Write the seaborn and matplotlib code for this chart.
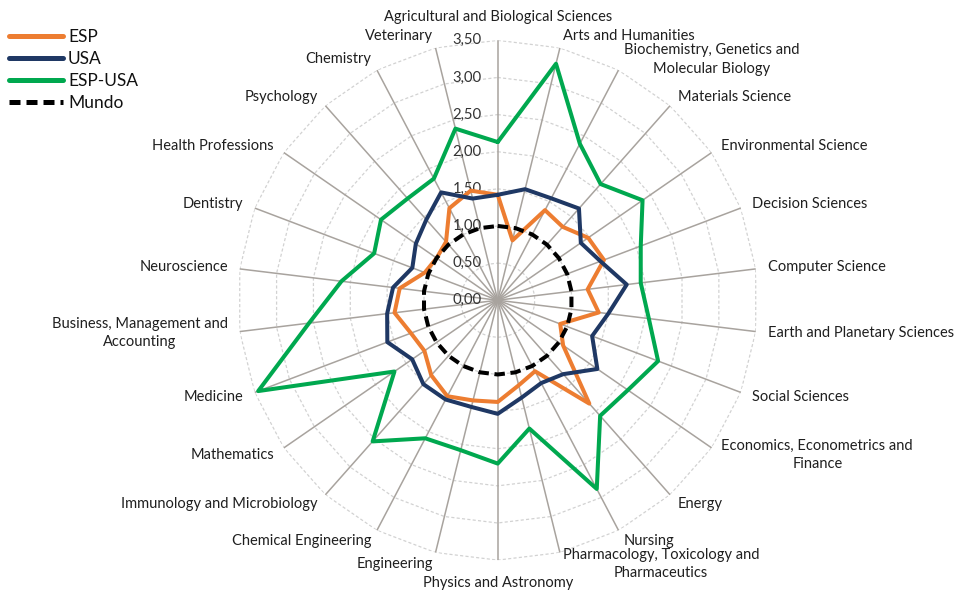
import numpy as np
import pandas as pd
import matplotlib
matplotlib.use("Agg")
import matplotlib.pyplot as plt
import seaborn as sns
from matplotlib.lines import Line2D

# ---------------- data ----------------
categories = [
    "Agricultural and Biological Sciences", "Arts and Humanities",
    "Biochemistry, Genetics and\nMolecular Biology", "Materials Science",
    "Environmental Science", "Decision Sciences", "Computer Science",
    "Earth and Planetary Sciences", "Social Sciences",
    "Economics, Econometrics and\nFinance", "Energy", "Nursing",
    "Pharmacology, Toxicology and\nPharmaceutics", "Physics and Astronomy",
    "Engineering", "Chemical Engineering", "Immunology and Microbiology",
    "Mathematics", "Medicine", "Business, Management and\nAccounting",
    "Neuroscience", "Dentistry", "Health Professions", "Psychology",
    "Chemistry", "Veterinary",
]
esp = [1.42, 0.83, 1.37, 1.32, 1.48, 1.53, 1.22, 1.37, 0.90, 1.07, 1.86, 1.08, 1.18,
       1.37, 1.39, 1.46, 1.35, 1.20, 1.25, 1.40, 1.33, 1.05, 1.00, 1.05, 1.40, 1.52]
usa = [1.42, 1.54, 1.55, 1.65, 1.36, 1.48, 1.75, 1.50, 1.36, 1.63, 1.33, 1.26, 1.35,
       1.53, 1.48, 1.51, 1.51, 1.40, 1.59, 1.50, 1.42, 1.23, 1.34, 1.45, 1.64, 1.41]
esp_usa = [2.13, 3.28, 2.38, 2.09, 2.37, 2.06, 1.94, 2.05, 2.31, 2.13, 2.08, 2.87, 1.78,
           2.20, 2.08, 2.10, 2.54, 1.69, 3.45, 2.56, 2.12, 1.78, 1.91, 1.83, 1.85, 2.38]
mundo = [1.00, 1.00, 1.00, 1.00, 1.00, 1.00, 1.00, 1.00, 1.00, 1.00, 1.00, 1.00, 1.00,
         1.00, 1.00, 1.00, 1.00, 1.00, 1.00, 1.00, 1.00, 1.00, 1.00, 1.00, 1.00, 1.00]
series_names = ["ESP", "USA", "ESP-USA", "Mundo"]
r_ticks = [0.0, 0.5, 1.0, 1.5, 2.0, 2.5, 3.0, 3.5]
r_tick_labels = ["0,00", "0,50", "1,00", "1,50", "2,00", "2,50", "3,00", "3,50"]

colors = {"ESP": "#ED7D31", "USA": "#1F3864", "ESP-USA": "#00A84F", "Mundo": "#000000"}
dashes = {"ESP": "", "USA": "", "ESP-USA": "", "Mundo": (2.6, 1.4)}

# ---------------- build long table ----------------
n = len(categories)
theta = np.linspace(0, 2 * np.pi, n, endpoint=False)
theta_closed = np.append(theta, theta[0] + 2 * np.pi)
rows = []
for name, vals in zip(series_names, [esp, usa, esp_usa, mundo]):
    closed = list(vals) + [vals[0]]
    for k, (t, v) in enumerate(zip(theta_closed, closed)):
        rows.append({"series": name, "theta": t, "value": v, "order": k})
df = pd.DataFrame(rows)

# ---------------- figure ----------------
sns.set_theme(style="white")
plt.rcParams["font.family"] = ["Lato", "DejaVu Sans"]

fig = plt.figure(figsize=(9.59, 5.91), dpi=100)
fig.patch.set_facecolor("white")
ax = fig.add_axes([0.248, 0.052, 0.542, 0.880], projection="polar")
ax.set_theta_zero_location("N")
ax.set_theta_direction(-1)
ax.set_facecolor("none")
ax.grid(False)
ax.spines["polar"].set_visible(False)

rmax = r_ticks[-1]
# polygon gridlines (Excel-style)
for v in r_ticks[1:]:
    ax.plot(theta_closed, [v] * len(theta_closed), color="#D2D2D2", lw=0.9,
            ls=(0, (2.5, 1.8)), zorder=1)
# spokes
for t in theta:
    ax.plot([t, t], [0, rmax], color="#A8A39E", lw=1.1, zorder=2)

sns.lineplot(data=df, x="theta", y="value", hue="series", style="series",
             hue_order=series_names, style_order=series_names,
             palette=colors, dashes=dashes, sort=False, estimator=None,
             units="series", lw=2.9, legend=False, ax=ax, zorder=4)

ax.set_ylim(0, rmax)
ax.set_xticks([])
ax.set_yticks([])
ax.set_xlabel("")
ax.set_ylabel("")

# radial tick labels
for v, lab in zip(r_ticks, r_tick_labels):
    ax.annotate(lab, xy=(0, v), xytext=(-11.5, 0), textcoords="offset points",
                ha="right", va="center", fontsize=10.7, color="#333333",
                zorder=3, annotation_clip=False)

# category labels
px2pt = 72 / fig.dpi
for t, lab in zip(theta, categories):
    s, c = np.sin(t), np.cos(t)
    if abs(s) < 0.05:
        ha = "center"
        extra = 23
    else:
        ha = "left" if s > 0 else "right"
        extra = 12
    ax.annotate(lab, xy=(t, rmax), xytext=(extra * s * px2pt, extra * c * px2pt),
                textcoords="offset points", ha=ha, va="center",
                multialignment="center", linespacing=1.4, fontsize=10.5,
                color="#1f1f1f", annotation_clip=False)

# legend
handles = [Line2D([0], [0], color=colors[nm], lw=3.6,
                  ls="--" if nm == "Mundo" else "-",
                  dashes=(2.2, 1.2) if nm == "Mundo" else (None, None))
           for nm in series_names]
fig.legend(handles, series_names, loc="upper left",
           bbox_to_anchor=(9 / 959, 1 - 29 / 591), frameon=False,
           fontsize=12.5, handlelength=3.1, handletextpad=0.3,
           labelspacing=0.34, borderpad=0, borderaxespad=0, labelcolor="#111111")

fig.savefig("out.png", dpi=100, facecolor="white")
